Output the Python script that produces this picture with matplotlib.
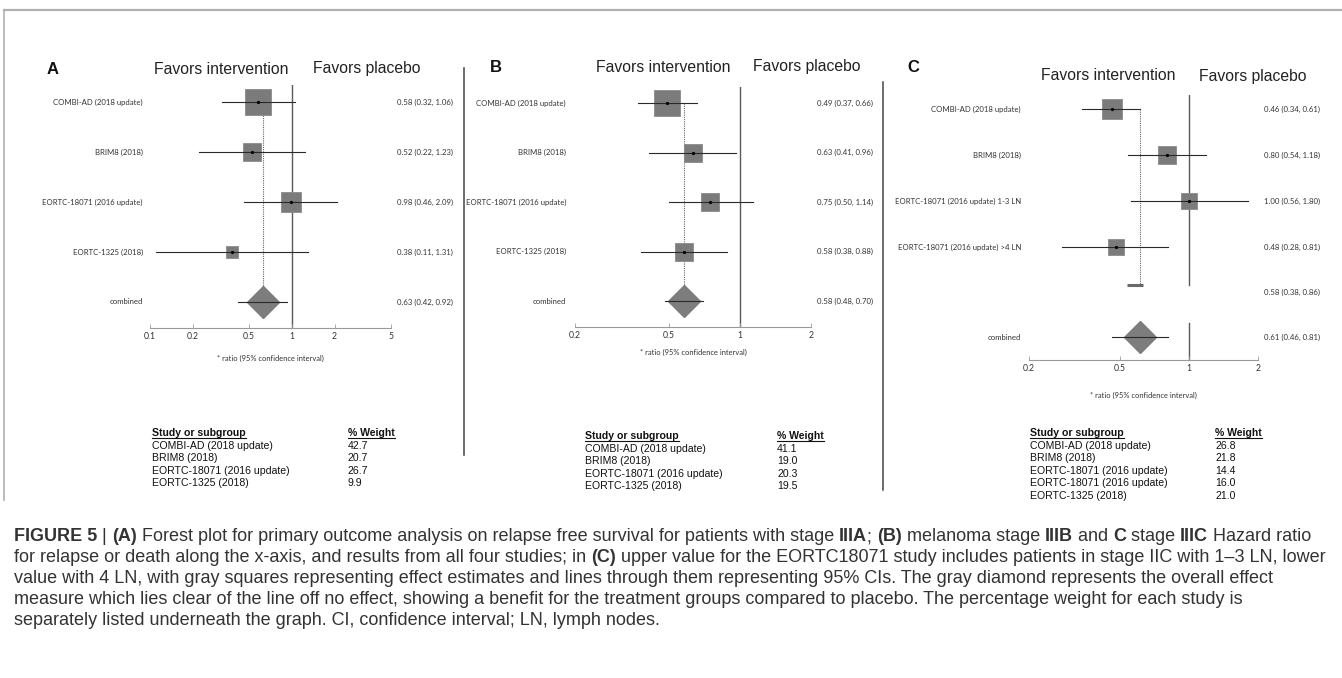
import matplotlib
matplotlib.use("Agg")
import matplotlib.pyplot as plt
import numpy as np
from matplotlib import transforms
from matplotlib.lines import Line2D
from matplotlib import font_manager

W, H = 1342, 678
fig = plt.figure(figsize=(W / 100, H / 100), dpi=100)


def fx(x):
    return x / W


def fy(y):
    return 1 - y / H


# ---------------- data ----------------
studies_A = ["COMBI-AD (2018 update)", "BRIM8 (2018)", "EORTC-18071 (2016 update)", "EORTC-1325 (2018)"]
hr_A = [0.58, 0.52, 0.98, 0.38]
lo_A = [0.32, 0.22, 0.46, 0.11]
hi_A = [1.06, 1.23, 2.09, 1.31]
weight_A = [42.7, 20.7, 26.7, 9.9]
comb_A = [0.63, 0.42, 0.92]

studies_B = ["COMBI-AD (2018 update)", "BRIM8 (2018)", "EORTC-18071 (2016 update)", "EORTC-1325 (2018)"]
hr_B = [0.49, 0.63, 0.75, 0.58]
lo_B = [0.37, 0.41, 0.50, 0.38]
hi_B = [0.66, 0.96, 1.14, 0.88]
weight_B = [41.1, 19.0, 20.3, 19.5]
comb_B = [0.58, 0.48, 0.70]

studies_C = ["COMBI-AD (2018 update)", "BRIM8 (2018)", "EORTC-18071 (2016 update) 1-3 LN",
             "EORTC-18071 (2016 update) >4 LN"]
hr_C = [0.46, 0.80, 1.00, 0.48]
lo_C = [0.34, 0.54, 0.56, 0.28]
hi_C = [0.61, 1.18, 1.80, 0.81]
sub_C = [0.58, 0.38, 0.86]
comb_C = [0.61, 0.46, 0.81]

table_names_C = ["COMBI-AD (2018 update)", "BRIM8 (2018)", "EORTC-18071 (2016 update)",
                 "EORTC-18071 (2016 update)", "EORTC-1325 (2018)"]
weight_C = [26.8, 21.8, 14.4, 16.0, 21.0]

ticks_A = [0.1, 0.2, 0.5, 1, 2, 5]
ticks_BC = [0.2, 0.5, 1, 2]

# ---------------- styles ----------------
SMALL = ["Lato", "DejaVu Sans"]
ARIAL = ["Liberation Sans", "DejaVu Sans"]
SQ_COL = "#7b7b7b"
LINE_COL = "#2a2a2a"
K_SQ = 4.0  # px per sqrt(weight)


def fmt(e, l, h):
    return f"{e:.2f} ({l:.2f}, {h:.2f})"


def make_panel(xl_px, xr_px, xlim, top_px, axis_px, row0_px, step_px, ticks,
               names, hr, lo, hi, weights, comb, comb_row, label_x, value_x,
               vline_segments=None, dotted_end=None):
    ax = fig.add_axes([fx(xl_px), fy(axis_px), (xr_px - xl_px) / W, (axis_px - top_px) / H])
    ax.set_xscale("log")
    ax.set_xlim(*xlim)
    ybot = (axis_px - row0_px) / step_px
    ytop = (top_px - row0_px) / step_px
    ax.set_ylim(ybot, ytop)
    for s in ["top", "left", "right"]:
        ax.spines[s].set_visible(False)
    ax.spines["bottom"].set_color("#9a9a9a")
    ax.spines["bottom"].set_linewidth(0.8)
    ax.set_yticks([])
    ax.set_xticks(ticks)
    ax.set_xticklabels([f"{t:g}" for t in ticks])
    ax.xaxis.set_minor_locator(matplotlib.ticker.NullLocator())
    ax.tick_params(axis="x", direction="in", length=3, width=0.6, color="#9a9a9a",
                   labelsize=6.2, labelcolor="#333333", pad=3)
    for lab in ax.get_xticklabels():
        lab.set_family(SMALL)
    ax.patch.set_alpha(0)

    if vline_segments is None:
        ax.axvline(1, color="#5a5a5a", lw=1.0, zorder=1)
    else:
        for a, b in vline_segments:
            ax.plot([1, 1], [a, b], color="#5a5a5a", lw=1.0, zorder=1)

    rows = np.arange(len(names))
    end = comb_row if dotted_end is None else dotted_end
    ax.plot([comb[0], comb[0]], [rows[0], end], color="#666666", lw=0.8,
            ls=(0, (1, 1)), zorder=1)
    for i in rows:
        ax.plot([lo[i], hi[i]], [i, i], color=LINE_COL, lw=0.8, zorder=3)
        side = K_SQ * np.sqrt(weights[i]) * 0.72
        ax.plot(hr[i], i, marker="s", ms=side, mfc=SQ_COL, mec="#8a8a8a", mew=0.6, zorder=2)
        ax.plot(hr[i], i, marker="o", ms=1.3, color="black", zorder=4)
    ax.plot([comb[1], comb[2]], [comb_row, comb_row], color=LINE_COL, lw=0.8, zorder=3)
    ax.plot(comb[0], comb_row, marker="D", ms=16.5, mfc="#7d7d7d", mec="#7d7d7d", zorder=2)

    tr = transforms.blended_transform_factory(fig.transFigure, ax.transData)
    for i in rows:
        ax.text(fx(label_x), i, names[i], transform=tr, ha="right", va="center",
                fontsize=5.6, color="#333333", family=SMALL)
        ax.text(fx(value_x), i, fmt(hr[i], lo[i], hi[i]), transform=tr, ha="left",
                va="center", fontsize=5.6, color="#333333", family=SMALL)
    ax.text(fx(label_x), comb_row, "combined", transform=tr, ha="right", va="center",
            fontsize=5.6, color="#333333", family=SMALL)
    ax.text(fx(value_x), comb_row, fmt(*comb), transform=tr, ha="left", va="center",
            fontsize=5.6, color="#333333", family=SMALL)
    return ax, tr


# ---------------- panel A ----------------
axA, trA = make_panel(150, 391, (0.1, 5), 85, 328, 102, 50.0, ticks_A,
                      studies_A, hr_A, lo_A, hi_A, weight_A, comb_A, 4,
                      143, 397)
fig.text(fx(270), fy(358), "* ratio (95% confidence interval)", ha="center", va="center",
         fontsize=5.4, color="#333333", family=SMALL)

# ---------------- panel B ----------------
axB, trB = make_panel(575, 811, (0.2, 2), 87, 327, 103, 49.5, ticks_BC,
                      studies_B, hr_B, lo_B, hi_B, weight_B, comb_B, 4,
                      566, 817)
fig.text(fx(693), fy(352), "* ratio (95% confidence interval)", ha="center", va="center",
         fontsize=5.4, color="#333333", family=SMALL)

# ---------------- panel C ----------------
axC, trC = make_panel(1029, 1258, (0.2, 2), 95, 360, 109, 46.0, ticks_BC,
                      studies_C, hr_C, lo_C, hi_C, weight_C[:4], comb_C, 4.96,
                      1021, 1264, vline_segments=[(-0.31, 3.83), (4.65, 5.46)],
                      dotted_end=3.83)
axC.plot([0.535, 0.63], [3.83, 3.83], color="#6a6a6a", lw=2.2, solid_capstyle="butt", zorder=3)
axC.text(fx(1264), 3.98, fmt(*sub_C), transform=trC, ha="left", va="center",
         fontsize=5.6, color="#333333", family=SMALL)
fig.text(fx(1143), fy(395), "* ratio (95% confidence interval)", ha="center", va="center",
         fontsize=5.4, color="#333333", family=SMALL)

# ---------------- headers ----------------
for lab, x, y in [("A", 47, 69), ("B", 490, 68), ("C", 907, 68)]:
    fig.text(fx(x), fy(y), lab, fontsize=12, fontweight="bold", family=ARIAL,
             ha="left", va="center", color="#111111")
for xi, xp, y in [(221, 367, 69), (663, 807, 67), (1108, 1253, 76)]:
    fig.text(fx(xi), fy(y), "Favors intervention", fontsize=11.3, family=ARIAL,
             ha="center", va="center", color="#222222")
    fig.text(fx(xp), fy(y), "Favors placebo", fontsize=11.3, family=ARIAL,
             ha="center", va="center", color="#222222")

# separators and frame
fig.add_artist(Line2D([fx(464), fx(464)], [fy(68), fy(455)], color="#444444", lw=1.1))
fig.add_artist(Line2D([fx(883), fx(883)], [fy(82), fy(490)], color="#444444", lw=1.1))
fig.add_artist(Line2D([fx(4), 1], [fy(10), fy(10)], color="#b0b0b0", lw=1.6))
fig.add_artist(Line2D([fx(4), fx(4)], [fy(10), fy(500)], color="#b0b0b0", lw=1.2))

# ---------------- tables ----------------
renderer = fig.canvas.get_renderer()


def table(xn, xw, yh, names, weights, step=12.6):
    for txt, x in [("Study or subgroup", xn), ("% Weight", xw)]:
        t = fig.text(fx(x), fy(yh), txt, fontsize=7.6, fontweight="bold", family=ARIAL,
                     ha="left", va="baseline", color="#111111")
        bb = t.get_window_extent(renderer)
        fig.add_artist(Line2D([fx(bb.x0), fx(bb.x1)], [fy(yh + 2), fy(yh + 2)],
                              color="#111111", lw=0.8))
    for i, (n, w) in enumerate(zip(names, weights)):
        y = yh + step * (i + 1)
        fig.text(fx(xn), fy(y), n, fontsize=7.6, family=ARIAL, ha="left", va="baseline",
                 color="#111111")
        fig.text(fx(xw), fy(y), f"{w:.1f}", fontsize=7.6, family=ARIAL, ha="left",
                 va="baseline", color="#111111")


table(152, 348, 436, studies_A, weight_A)
table(585, 777, 439, studies_B, weight_B)
table(1030, 1215, 436, table_names_C, weight_C)

# ---------------- caption ----------------
def has_font(name):
    try:
        font_manager.findfont(font_manager.FontProperties(family=name), fallback_to_default=False)
        return True
    except Exception:
        return False


CAP = ["Liberation Sans Narrow", "Liberation Sans"] if has_font("Liberation Sans Narrow") \
    else ["Liberation Sans", "DejaVu Sans"]
CAP_COL = "#333333"
caption = [
    [("FIGURE 5", True), (" | ", False), ("(A)", True),
     (" Forest plot for primary outcome analysis on relapse free survival for patients with stage ", False),
     ("IIIA", True), ("; ", False), ("(B)", True), (" melanoma stage ", False), ("IIIB", True),
     (" and ", False), ("C", True), (" stage ", False), ("IIIC", True), (" Hazard ratio", False)],
    [("for relapse or death along the x-axis, and results from all four studies; in ", False),
     ("(C)", True),
     (" upper value for the EORTC18071 study includes patients in stage IIC with 1\u20133 LN, lower", False)],
    [("value with 4 LN, with gray squares representing effect estimates and lines through them representing 95% CIs. The gray diamond represents the overall effect", False)],
    [("measure which lies clear of the line off no effect, showing a benefit for the treatment groups compared to placebo. The percentage weight for each study is", False)],
    [("separately listed underneath the graph. CI, confidence interval; LN, lymph nodes.", False)],
]


def run_width(txt, bold, size):
    t = fig.text(0, 0, txt + "|", fontsize=size, family=CAP,
                 fontweight="bold" if bold else "normal")
    t2 = fig.text(0, 0, "|", fontsize=size, family=CAP,
                  fontweight="bold" if bold else "normal")
    w = t.get_window_extent(renderer).width - t2.get_window_extent(renderer).width
    t.remove()
    t2.remove()
    return w


# size chosen so that the widest caption line spans the same width as in the reference
base = 10.0
widest = max(sum(run_width(t, b, base) for t, b in line) for line in caption)
CAP_SIZE = min(15.0, base * 1318.0 / widest)

for li, line in enumerate(caption):
    x = 14
    y = 541 + li * 21
    for txt, bold in line:
        fig.text(fx(x), fy(y), txt, fontsize=CAP_SIZE, family=CAP,
                 fontweight="bold" if bold else "normal", color=CAP_COL,
                 ha="left", va="baseline")
        x += run_width(txt, bold, CAP_SIZE)

fig.savefig("out.png", dpi=100, facecolor="white")
